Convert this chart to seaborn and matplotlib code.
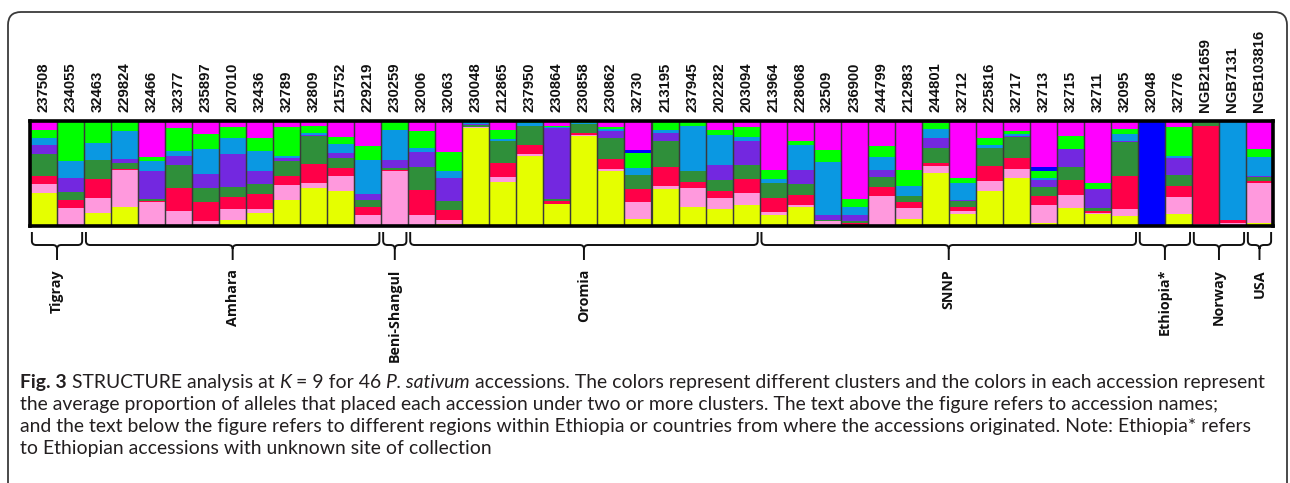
"""
STRUCTURE plot (K = 9) for 46 P. sativum accessions, with region braces and caption.
"""

import numpy as np
import pandas as pd
import matplotlib
matplotlib.use("Agg")
import matplotlib.pyplot as plt
import seaborn as sns
from matplotlib.path import Path
from matplotlib.patches import PathPatch, FancyBboxPatch
from matplotlib.transforms import blended_transform_factory, IdentityTransform

W, H = 1290, 483

# Accession names (top labels)
accessions = ['237508', '234055', '32463', '229824', '32466', '32377', '235897', '207010',
              '32436', '32789', '32809', '215752', '229219', '230259', '32006', '32063',
              '230048', '212865', '237950', '230864', '230858', '230862', '32730', '213195',
              '237945', '202282', '203094', '213964', '228068', '32509', '236900', '244799',
              '212983', '244801', '32712', '225816', '32717', '32713', '32715', '32711',
              '32095', '32048', '32776', 'NGB21659', 'NGB7131', 'NGB103816']

regions = ['Tigray', 'Amhara', 'Beni-Shangul', 'Oromia', 'SNNP', 'Ethiopia*', 'Norway', 'USA']
region_sizes = [2, 11, 1, 13, 14, 2, 2, 1]

# Cluster membership (relative units, normalised per accession)
yellow = [96, 0, 38, 55, 0, 3, 0, 18, 38, 75, 111, 101, 0, 0, 0, 5, 283, 128, 202, 63,
          261, 160, 20, 108, 56, 48, 61, 33, 56, 0, 0, 0, 20, 153, 36, 101, 138, 8, 53, 35,
          28, 0, 36, 0, 0, 10]
pink = [24, 53, 43, 105, 68, 40, 13, 30, 10, 43, 12, 42, 33, 158, 33, 11, 3, 13, 5, 1,
        3, 5, 50, 8, 55, 32, 35, 7, 4, 13, 0, 88, 33, 20, 7, 30, 27, 53, 37, 3,
        22, 0, 47, 5, 8, 115]
red = [25, 22, 55, 3, 5, 68, 57, 35, 43, 27, 55, 23, 23, 4, 72, 29, 0, 40, 26, 7,
       5, 28, 38, 55, 15, 21, 40, 40, 30, 2, 10, 25, 15, 8, 12, 42, 30, 27, 43, 5,
       95, 0, 32, 283, 8, 5]
dkgreen = [63, 23, 55, 18, 5, 64, 41, 30, 30, 43, 82, 30, 19, 4, 66, 26, 5, 63, 57, 6,
           25, 60, 40, 73, 34, 32, 39, 43, 31, 3, 3, 27, 20, 44, 16, 52, 61, 25, 38, 10,
           96, 0, 33, 12, 2, 10]
purple = [27, 40, 0, 12, 80, 28, 39, 95, 37, 7, 3, 15, 18, 24, 42, 67, 4, 2, 0, 207,
          0, 20, 0, 25, 0, 42, 70, 0, 40, 15, 18, 23, 0, 28, 5, 0, 5, 20, 50, 53,
          4, 0, 47, 0, 0, 5]
ltblue = [18, 50, 49, 80, 30, 12, 73, 45, 57, 8, 5, 27, 97, 88, 12, 20, 4, 5, 6, 3,
          3, 6, 20, 7, 128, 88, 13, 12, 74, 153, 25, 37, 28, 27, 47, 8, 5, 5, 0, 0,
          21, 0, 6, 3, 282, 55]
green = [25, 112, 60, 27, 10, 68, 42, 32, 40, 84, 22, 20, 40, 22, 48, 55, 1, 27, 5, 3,
         3, 7, 43, 23, 12, 13, 28, 28, 11, 34, 22, 30, 45, 18, 15, 20, 9, 22, 39, 17,
         14, 0, 85, 0, 3, 23]
blue = [0, 0, 0, 0, 0, 0, 0, 0, 0, 0, 0, 0, 0, 0, 0, 0, 0, 0, 0, 0,
        0, 0, 7, 0, 0, 0, 0, 0, 0, 0, 0, 0, 0, 0, 0, 0, 0, 10, 0, 0,
        0, 300, 0, 0, 0, 0]
magenta = [25, 2, 2, 2, 105, 20, 38, 18, 48, 16, 13, 45, 73, 3, 30, 90, 3, 25, 2, 13,
           3, 17, 85, 4, 3, 27, 17, 140, 57, 83, 225, 73, 142, 5, 165, 50, 28, 133, 43, 180,
           23, 3, 17, 0, 0, 80]

# top of the bar first (seaborn stacks the first hue level on top)
cluster_order = ['magenta', 'blue', 'green', 'ltblue', 'purple', 'dkgreen', 'red', 'pink', 'yellow']
palette = {'magenta': '#FF00FF', 'blue': '#0000FF', 'green': '#00FF00', 'ltblue': '#0A98E2',
           'purple': '#7328E0', 'dkgreen': '#2F8F3A', 'red': '#FF0048', 'pink': '#FF99DD',
           'yellow': '#E5FF00'}


def build_frame():
    wide = pd.DataFrame({'magenta': magenta, 'blue': blue, 'green': green, 'ltblue': ltblue,
                         'purple': purple, 'dkgreen': dkgreen, 'red': red, 'pink': pink,
                         'yellow': yellow})
    wide = wide.div(wide.sum(axis=1), axis=0)
    wide['idx'] = np.arange(len(accessions))
    return wide.melt(id_vars='idx', var_name='cluster', value_name='q')


def fy(px):
    return 1 - px / H


def draw_brace(ax, trans, a, b, top=232, mid=245, tip=260):
    x0, x1 = a - 0.5 + 0.07, b + 0.5 - 0.07
    xc = (x0 + x1) / 2
    r = min(0.16, (x1 - x0) / 5)
    verts = [(x0, fy(top)), (x0, fy(mid - 4)), (x0, fy(mid)), (x0 + r, fy(mid)),
             (xc - r, fy(mid)), (xc, fy(mid)), (xc, fy(mid + 4)), (xc, fy(tip)),
             (xc, fy(mid + 4)), (xc, fy(mid)), (xc + r, fy(mid)),
             (x1 - r, fy(mid)), (x1, fy(mid)), (x1, fy(mid - 4)), (x1, fy(top))]
    codes = [Path.MOVETO, Path.LINETO, Path.CURVE3, Path.CURVE3,
             Path.LINETO, Path.CURVE3, Path.CURVE3, Path.LINETO,
             Path.MOVETO, Path.CURVE3, Path.CURVE3,
             Path.LINETO, Path.CURVE3, Path.CURVE3, Path.LINETO]
    ax.add_patch(PathPatch(Path(verts, codes), fill=False, edgecolor='#111111', lw=1.4,
                           transform=trans, clip_on=False))


def draw_runs(fig, renderer, x, y, runs, size):
    for txt, style in runs:
        t = fig.text(x / W, fy(y), txt, fontsize=size, va='baseline', ha='left',
                     color='#231F20', family='Lato', **style)
        x += t.get_window_extent(renderer=renderer).width
    return x


def main():
    sns.set_style("white")
    plt.rcParams['font.family'] = ['Liberation Sans', 'DejaVu Sans']

    fig = plt.figure(figsize=(W / 100, H / 100), dpi=100)
    ax = fig.add_axes([30 / W, fy(226), (1273 - 30) / W, (226 - 121) / H])

    df = build_frame()
    sns.histplot(data=df, x='idx', hue='cluster', weights='q', multiple='stack',
                 discrete=True, shrink=1, hue_order=cluster_order, palette=palette,
                 alpha=1, linewidth=0, legend=False, ax=ax)
    # accession separators
    idx = np.arange(len(accessions))
    ax.bar(idx, 1, width=1, fill=False, edgecolor='#3A3A3A', linewidth=0.9)

    ax.set_xlim(-0.5, len(accessions) - 0.5)
    ax.set_ylim(0, 1)
    ax.set_yticks([])
    ax.set_ylabel('')
    ax.set_xlabel('')
    ax.xaxis.tick_top()
    ax.set_xticks(idx)
    ax.set_xticklabels(accessions, rotation=90, fontsize=10.7, fontweight='bold',
                       family='Liberation Sans', color='#111111')
    ax.tick_params(axis='x', length=0, pad=6.5)
    for s in ax.spines.values():
        s.set_visible(True)
        s.set_color('black')
        s.set_linewidth(2.6)

    # region braces and labels
    trans = blended_transform_factory(ax.transData, fig.transFigure)
    start = 0
    for name, n in zip(regions, region_sizes):
        a, b = start, start + n - 1
        draw_brace(ax, trans, a, b)
        ax.text((a + b) / 2, fy(269), name, transform=trans, rotation=90, ha='center',
                va='top', fontsize=10.3, fontweight='bold', family='Open Sans',
                color='#111111', clip_on=False)
        start += n

    # panel frame with rounded top
    fig.add_artist(FancyBboxPatch((8, -30), 1279, H - 12 + 30,
                                  boxstyle='round,pad=0,rounding_size=13',
                                  fill=False, edgecolor='#3A3A3A', lw=1.3,
                                  transform=IdentityTransform()))

    # caption
    renderer = fig.canvas.get_renderer()
    n, b, i = {}, {'fontweight': 'bold'}, {'style': 'italic'}
    lines = [
        [('Fig. 3', b), (' STRUCTURE analysis at ', n), ('K', i), (' = 9 for 46 ', n),
         ('P. sativum', i), (' accessions. The colors represent different clusters and the '
                             'colors in each accession represent', n)],
        [('the average proportion of alleles that placed each accession under two or more '
          'clusters. The text above the figure refers to accession names;', n)],
        [('and the text below the figure refers to different regions within Ethiopia or '
          'countries from where the accessions originated. Note: Ethiopia* refers', n)],
        [('to Ethiopian accessions with unknown site of collection', n)],
    ]
    # fit first line to its width in the reference
    probe = 12.0
    n_before = len(fig.texts)
    end = draw_runs(fig, renderer, 20, 388, lines[0], probe)
    for t in fig.texts[n_before:]:
        t.remove()
    size = probe * (1257 - 20) / (end - 20)
    for k, runs in enumerate(lines):
        draw_runs(fig, renderer, 20, 388 + 22 * k, runs, size)

    fig.savefig('out.png', dpi=100)
    plt.close(fig)


if __name__ == '__main__':
    main()
